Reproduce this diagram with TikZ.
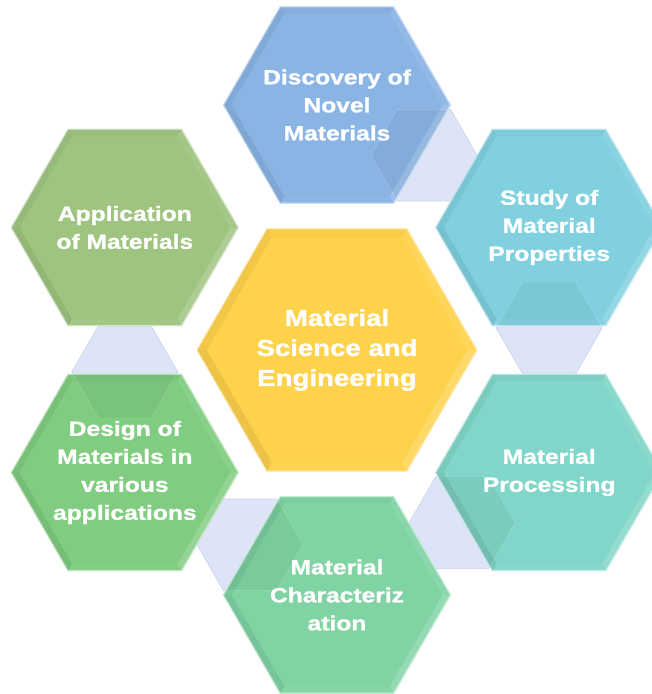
\documentclass[tikz,border=0pt]{standalone}
\usepackage{fontspec}
\newfontfamily\hexfont[FakeStretch=1.2,FakeBold=1.2]{Liberation Sans Bold}
\usetikzlibrary{shapes.geometric,calc,backgrounds}
\definecolor{coreyellow}{HTML}{FFD24C}
\definecolor{discblue}{HTML}{8AB4E4}
\definecolor{studycyan}{HTML}{80D0E0}
\definecolor{procteal}{HTML}{80D6C8}
\definecolor{chargreen}{HTML}{80D4A4}
\definecolor{designgreen}{HTML}{80CC80}
\definecolor{applolive}{HTML}{9EC480}
\definecolor{linkfill}{HTML}{DDE4F7}
\definecolor{linkedge}{HTML}{C8D0E8}
\tikzset{
  cell/.style={regular polygon,regular polygon sides=6,minimum size=227pt,inner sep=0pt,outer sep=0pt,fill=#1,draw=#1!45!white,line width=1.2pt},
  link/.style={regular polygon,regular polygon sides=6,minimum size=106pt,inner sep=0pt,outer sep=0pt,fill=linkfill,draw=linkedge,line width=.6pt},
  caption/.style={text=white,align=center,font=\hexfont\fontsize{20.5}{28}\selectfont},
}
\begin{document}
\begin{tikzpicture}[x=1pt,y=1pt]
\useasboundingbox (-337,-344) rectangle (315,350);
%cells
\node[cell=coreyellow,minimum size=280pt] (core) at (0,0) {};
\node[cell=discblue] (disc) at (90:245) {};
\node[cell=studycyan] (study) at (30:245) {};
\node[cell=procteal] (proc) at (-30:245) {};
\node[cell=chargreen] (char) at (-90:245) {};
\node[cell=designgreen] (design) at (210:245) {};
\node[cell=applolive] (appl) at (150:245) {};
%links
\begin{pgfonlayer}{background}
\foreach \a/\b/\l in {disc/study/l1,study/proc/l2,proc/char/l3,char/design/l4,design/appl/l5}
  \node[link] (\l) at ($(\a)!.41!(\b)$) {};
\end{pgfonlayer}
%link seen through the cell
\foreach \a/\l in {disc/l1,study/l2,proc/l3,char/l4,design/l5}{
  \begin{scope}
    \clip (\a.corner 1) \foreach \k in {2,...,6}{-- (\a.corner \k)} -- cycle;
    \filldraw[fill=black,fill opacity=.045,draw=white,draw opacity=.25] (\l.corner 1) \foreach \k in {2,...,6}{-- (\l.corner \k)} -- cycle;
  \end{scope}
}
%bevel
\foreach \n in {core,disc,study,proc,char,design,appl}
  \foreach \k/\j/\c/\o in {1/2/black/.025,2/3/black/.05,3/4/black/.07,4/5/white/.05,5/6/white/.16,6/1/white/.08}{
    \fill[\c,opacity=\o] ($(\n.center)!.93!(\n.corner \k)$) -- (\n.corner \k) -- (\n.corner \j) -- ($(\n.center)!.93!(\n.corner \j)$) -- cycle;
  }
%labels
\node[caption,font=\hexfont\fontsize{23}{30}\selectfont] (core-t) at (core) {Material\\Science and\\Engineering};
\node[caption] (disc-t) at (disc) {Discovery of\\Novel\\Materials};
\node[caption] (study-t) at (study) {Study of\\Material\\Properties};
\node[caption] (proc-t) at (proc) {Material\\Processing};
\node[caption] (char-t) at (char) {Material\\Characteriz\\ation};
\node[caption] (design-t) at (design) {Design of\\Materials in\\various\\applications};
\node[caption] (appl-t) at (appl) {Application\\of Materials};
\end{tikzpicture}
\end{document}
